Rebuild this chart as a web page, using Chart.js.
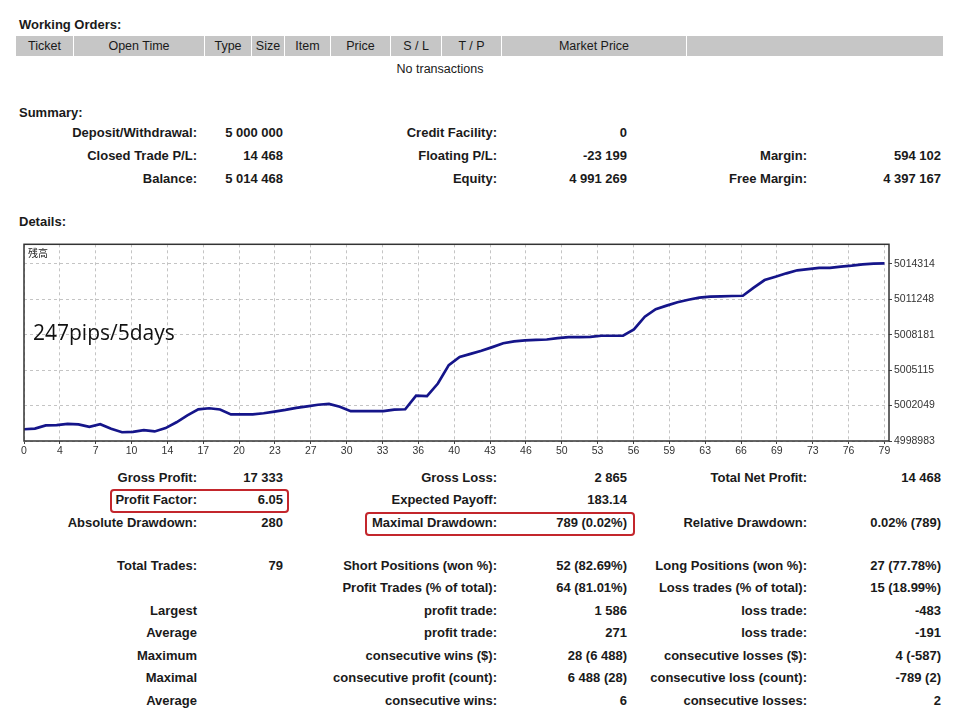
<!DOCTYPE html>
<html>
<head>
<meta charset="utf-8">
<script src="https://cdn.jsdelivr.net/npm/chart.js@4.4.1/dist/chart.umd.min.js"></script>
<style>
body { margin: 0; width: 960px; height: 720px; background: #fff; position: relative; overflow: hidden;
       font-family: "Liberation Sans", Arial, sans-serif; color: #1a1a1a; }
.t { position: absolute; font-size: 13px; font-weight: bold; white-space: nowrap; line-height: 15px; }
.r { text-align: right; }
.cell { position: absolute; top: 36px; height: 20px; background: #c6c6c6; font-size: 12.5px; line-height: 20px;
        text-align: center; color: #1a1a1a; }
.box { position: absolute; border: 2px solid #c3262c; border-radius: 4px; box-sizing: border-box; }
#wrap { position: absolute; left: 10px; top: 236px; width: 940px; height: 224px; }
</style>
</head>
<body>

<div class="t" style="left:19px;top:17px">Working Orders:</div>
<div class="t" style="left:0;width:880px;top:62px;text-align:center;font-weight:normal;font-size:12.5px">No transactions</div>
<div class="t" style="left:19px;top:105px">Summary:</div>
<div class="t" style="left:19px;top:214px">Details:</div>

<div id="wrap"><canvas id="balanceChart" width="940" height="224"></canvas></div>
<div style="position:absolute;left:28px;top:245px;font-size:10px;font-family:'Noto Sans CJK JP';color:#222">残高</div>
<div style="position:absolute;left:33px;top:318px;font-size:21px;font-family:'Open Sans';color:#111">247pips/5days</div>

<div class="box" style="left:110px;top:489px;width:179px;height:24px"></div>
<div class="box" style="left:365px;top:512px;width:270px;height:24px"></div>

<script>
// balance after each trade
const balance = [
    5000000, 5000060, 5000330, 5000350, 5000460, 5000420, 5000200, 5000430, 5000050, 4999740,
    4999770, 4999920, 4999810, 5000100, 5000600, 5001200, 5001720, 5001815, 5001704, 5001279,
    5001279, 5001279, 5001380, 5001530, 5001670, 5001840, 5001980, 5002120, 5002190, 5001940,
    5001560, 5001560, 5001560, 5001560, 5001700, 5001730, 5002900, 5002870, 5003950, 5005540,
    5006250, 5006520, 5006780, 5007100, 5007440, 5007600, 5007680, 5007720, 5007760, 5007880,
    5007971, 5007971, 5007980, 5008081, 5008081, 5008081, 5008630, 5009730, 5010380, 5010690,
    5010980, 5011200, 5011380, 5011470, 5011490, 5011520, 5011542, 5012250, 5012900, 5013180,
    5013480, 5013740, 5013840, 5013949, 5013949, 5014060, 5014140, 5014250, 5014315, 5014340
];
const xTickLabels = ['0','4','7','10','14','17','20','23','27','30','33','36','40','43','46','50','53','56','59','63','66','69','73','76','79'];
const yTickValues = [4998983, 5002049, 5005115, 5008181, 5011248, 5014314];

const headerCols = [
    ['Ticket', 16, 73], ['Open Time', 74, 204], ['Type', 205, 251], ['Size', 252, 284], ['Item', 285, 330],
    ['Price', 331, 390], ['S / L', 391, 441], ['T / P', 442, 501], ['Market Price', 502, 686], ['', 687, 943]
];
const summaryRows = [
    [133, 'Deposit/Withdrawal:', '5 000 000', 'Credit Facility:', '0', '', ''],
    [156, 'Closed Trade P/L:', '14 468', 'Floating P/L:', '-23 199', 'Margin:', '594 102'],
    [179, 'Balance:', '5 014 468', 'Equity:', '4 991 269', 'Free Margin:', '4 397 167']
];
const statsRows = [
    [478, 'Gross Profit:', '17 333', 'Gross Loss:', '2 865', 'Total Net Profit:', '14 468'],
    [500, 'Profit Factor:', '6.05', 'Expected Payoff:', '183.14', '', ''],
    [523, 'Absolute Drawdown:', '280', 'Maximal Drawdown:', '789 (0.02%)', 'Relative Drawdown:', '0.02% (789)'],
    [566, 'Total Trades:', '79', 'Short Positions (won %):', '52 (82.69%)', 'Long Positions (won %):', '27 (77.78%)'],
    [588, '', '', 'Profit Trades (% of total):', '64 (81.01%)', 'Loss trades (% of total):', '15 (18.99%)'],
    [611, 'Largest', '', 'profit trade:', '1 586', 'loss trade:', '-483'],
    [633, 'Average', '', 'profit trade:', '271', 'loss trade:', '-191'],
    [656, 'Maximum', '', 'consecutive wins ($):', '28 (6 488)', 'consecutive losses ($):', '4 (-587)'],
    [678, 'Maximal', '', 'consecutive profit (count):', '6 488 (28)', 'consecutive loss (count):', '-789 (2)'],
    [701, 'Average', '', 'consecutive wins:', '6', 'consecutive losses:', '2']
];
const colRight = [197, 283, 497, 627, 807, 941];

function addText(txt, right, y) {
    if (!txt) return;
    const d = document.createElement('div');
    d.className = 't r';
    d.style.right = (960 - right) + 'px';
    d.style.top = (y - 8) + 'px';
    d.textContent = txt;
    document.body.appendChild(d);
}

headerCols.forEach(c => {
    const d = document.createElement('div');
    d.className = 'cell';
    d.style.left = c[1] + 'px';
    d.style.width = (c[2] - c[1]) + 'px';
    d.textContent = c[0];
    document.body.appendChild(d);
});
summaryRows.concat(statsRows).forEach(row => {
    for (let i = 0; i < 6; i++) addText(row[i + 1], colRight[i], row[0]);
});

const framePlugin = {
    id: 'frame',
    afterDraw(chart) {
        const a = chart.chartArea, ctx = chart.ctx;
        ctx.save();
        ctx.strokeStyle = '#333';
        ctx.lineWidth = 1.5;
        ctx.strokeRect(a.left, a.top, a.right - a.left, a.bottom - a.top);
        ctx.restore();
    }
};

const tickFont = { family: 'Liberation Sans', size: 10.5 };

new Chart(document.getElementById('balanceChart'), {
    type: 'line',
    data: {
        datasets: [{
            data: balance.map((v, i) => ({ x: i, y: v })),
            borderColor: '#15158a',
            borderWidth: 2.7,
            pointRadius: 0,
            tension: 0
        }]
    },
    options: {
        responsive: false,
        animation: false,
        layout: { padding: { left: 14, top: 5, right: 0, bottom: 0 } },
        plugins: { legend: { display: false }, tooltip: { enabled: false } },
        scales: {
            x: {
                type: 'linear',
                min: 0,
                max: 79.42,
                afterBuildTicks: s => { s.ticks = xTickLabels.map((l, i) => ({ value: i * 79 / 24 })); },
                afterFit: s => { s.height = 19; },
                ticks: {
                    callback: (v, i) => xTickLabels[i],
                    autoSkip: false, maxRotation: 0, padding: 1,
                    color: '#333', font: tickFont
                },
                grid: { color: '#c4c4c4', tickColor: '#444', tickLength: 3, tickBorderDash: [] },
                border: { display: false, dash: [3, 3] }
            },
            y: {
                position: 'right',
                min: 4998983,
                max: 5015990,
                afterBuildTicks: s => { s.ticks = yTickValues.map(v => ({ value: v })); },
                afterFit: s => { s.width = 61; },
                ticks: {
                    callback: v => String(v),
                    padding: 2,
                    color: '#333', font: tickFont
                },
                grid: { color: '#c4c4c4', tickColor: '#444', tickLength: 3, tickBorderDash: [] },
                border: { display: false, dash: [3, 3] }
            }
        }
    },
    plugins: [framePlugin]
});
</script>
</body>
</html>
